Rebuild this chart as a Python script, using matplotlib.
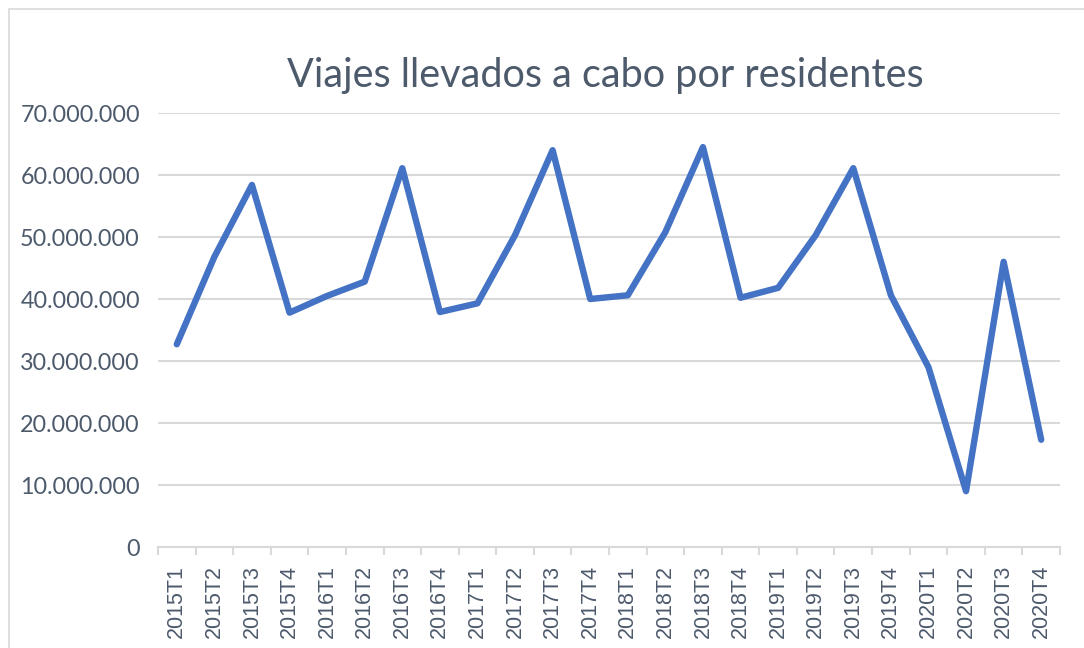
import matplotlib.pyplot as plt
from matplotlib.patches import Rectangle
from matplotlib.ticker import FuncFormatter, FixedLocator

trimestres = ["2015T1", "2015T2", "2015T3", "2015T4",
              "2016T1", "2016T2", "2016T3", "2016T4",
              "2017T1", "2017T2", "2017T3", "2017T4",
              "2018T1", "2018T2", "2018T3", "2018T4",
              "2019T1", "2019T2", "2019T3", "2019T4",
              "2020T1", "2020T2", "2020T3", "2020T4"]
viajes = [32.7, 46.8, 58.4, 37.8,
          40.5, 42.8, 61.1, 37.9,
          39.3, 50.3, 64.0, 40.0,
          40.6, 50.8, 64.5, 40.2,
          41.8, 50.3, 61.1, 40.6,
          29.0, 9.0, 46.0, 17.3]
viajes = [v * 1e6 for v in viajes]

texto = "#4d5a6c"
gris = "#d9d9d9"

fig = plt.figure(figsize=(10.84, 6.48), dpi=100)
fig.patches.append(Rectangle((9 / 1084, -0.01), 1.02, 1 - 9 / 648 + 0.01,
                             transform=fig.transFigure, fill=False,
                             edgecolor=gris, linewidth=1.2))

ax = fig.add_axes([158 / 1084, 1 - 547 / 648, 902 / 1084, 434 / 648])
x = list(range(len(trimestres)))
ax.plot(x, viajes, color="#4472c4", linewidth=4.6,
        solid_joinstyle="round", solid_capstyle="round", zorder=3)

ax.set_xlim(-0.5, len(trimestres) - 0.5)
ax.set_ylim(0, 70e6)
ax.set_yticks([i * 10e6 for i in range(8)])
ax.yaxis.set_major_formatter(FuncFormatter(
    lambda v, p: "0" if v == 0 else f"{int(v):,}".replace(",", ".")))
ax.grid(axis="y", color=gris, linewidth=1.5, zorder=0)
ax.set_axisbelow(True)

ax.set_xticks(x)
ax.set_xticklabels(trimestres, rotation=90, family="Liberation Sans",
                   fontsize=15.5, color=texto)
ax.xaxis.set_minor_locator(FixedLocator([i - 0.5 for i in range(len(trimestres) + 1)]))
ax.tick_params(axis="x", which="major", length=0, pad=13)
ax.tick_params(axis="x", which="minor", length=6, color=gris, width=1.5)
ax.tick_params(axis="y", length=0, pad=13, labelsize=16.8, labelcolor=texto)
for lab in ax.get_yticklabels():
    lab.set_family("Lato")

for s in ["top", "right", "left"]:
    ax.spines[s].set_visible(False)
ax.spines["bottom"].set_color(gris)
ax.spines["bottom"].set_linewidth(1.5)

fig.text(605 / 1084, 1 - 87 / 648, "Viajes llevados a cabo por residentes",
         ha="center", va="baseline", fontsize=28.5, color=texto, family="Lato")

fig.savefig("out.png", dpi=100)
